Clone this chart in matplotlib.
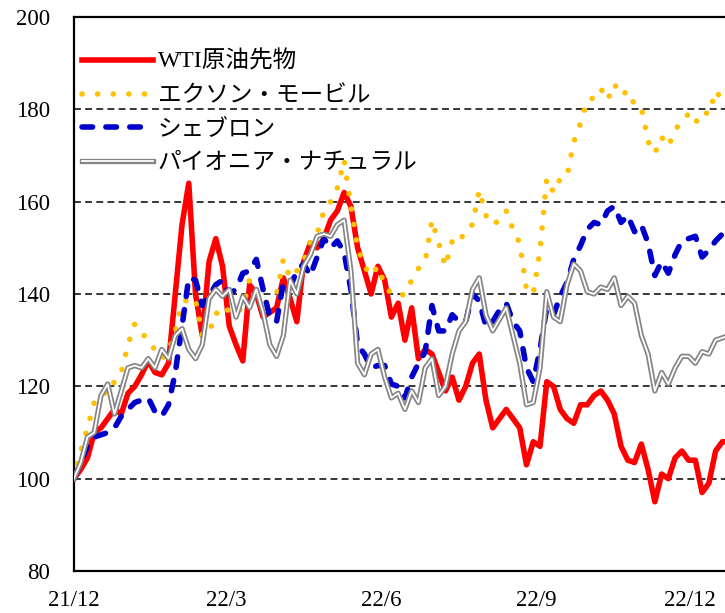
import matplotlib
matplotlib.use("Agg")
import matplotlib.pyplot as plt
import matplotlib.patheffects as pe
import pandas as pd

# 4日おきの指数 (21/12/1 = 100)
start = "2021-12-01"
wti = [100, 102, 104.5, 110, 111, 113, 115, 114, 118.5, 120, 122.5, 125.5, 123, 122.5, 125, 140,
       155, 164, 140, 131, 147, 152, 146, 133, 129, 125.5, 142, 140, 135, 136, 137, 143.5,
       139, 134, 147, 151, 150, 152, 156, 158, 162, 159, 150, 145, 140, 146, 143, 135,
       138, 130, 137, 126, 128, 127, 123, 119, 122, 117, 120, 125, 127, 117, 111, 113,
       115, 113, 111, 103, 108, 107, 121, 120, 115, 113, 112, 116, 116, 118, 119, 117,
       114, 107, 104, 103.5, 107.5, 102, 95, 101, 100, 104.5, 106, 104, 104, 97, 99, 106,
       108, 108]
exxon = [100, 106, 111, 116.5, 118.5, 118.5, 121, 123, 129, 133.5, 132, 129.5, 128, 126, 127.5, 132,
         138, 139, 139, 131, 131.5, 136, 135, 137, 136, 137, 143, 141, 138, 138.5, 140, 147.5,
         143.5, 145, 147, 151.5, 153, 158, 160, 163, 169, 159, 150, 146, 144, 146, 142, 140,
         139.5, 140, 143, 145.5, 147, 156, 151, 146, 151.5, 151, 154, 155, 162.5, 157, 155, 156,
         158, 154, 151, 141, 140, 149.5, 165, 162, 165, 165.5, 173, 177, 182, 182.5, 184.5, 182,
         185.5, 183, 184, 181, 180.5, 173, 170.5, 174, 172, 175.5, 177.5, 179, 177, 179.5, 179, 184,
         182, 184]
chevron = [100, 103.5, 107, 109, 109.5, 110, 111, 113.5, 115, 116.5, 117, 117.5, 114.5, 113.5, 116, 123,
           133, 143.5, 143, 137.5, 139.5, 142, 143, 140, 141, 144.5, 145, 147.5, 141, 135, 134, 142.5,
           141.5, 145, 146.5, 144, 148, 152, 150, 151.5, 149, 141, 129, 127, 124, 124.5, 124.5, 120.5,
           120, 117.5, 122, 125, 127.5, 137.5, 132, 132, 135.5, 134, 134, 140, 138.5, 133, 134, 136.5,
           138, 134, 132, 124, 121, 128, 137, 135.5, 139.5, 142.5, 147.5, 150.5, 154, 155.5, 155, 158,
           159, 155.5, 157, 153.5, 155, 151, 144, 147, 144.5, 148.5, 151.5, 152, 152.5, 148, 149.5, 151.5,
           153, 153]
pioneer = [100, 103.5, 109, 110, 118, 120.5, 114, 119, 124, 124.5, 124, 126, 124, 128, 126, 131,
           132.5, 128, 126, 129, 139, 141, 139.5, 141, 135, 139.5, 137, 141, 136, 129, 126.5, 131,
           143, 140, 146, 148.5, 152.5, 153, 152.5, 155, 156, 145, 125, 122.5, 127, 128, 122, 117.5,
           118.5, 115, 119, 116.5, 124, 126, 118, 120, 127, 132, 134, 141, 143.5, 135.5, 132, 134.5,
           137, 131, 125, 116, 116.5, 124, 140.5, 135, 134, 142, 146.5, 145, 140.5, 140, 141.5, 141,
           143.5, 137.5, 139.5, 138, 131, 127, 119, 123, 120.5, 124, 126.5, 126.5, 125, 127.5, 127, 130,
           130.5, 131]

labels = ["WTI原油先物", "エクソン・モービル", "シェブロン", "パイオニア・ナチュラル"]
tick_dates = ["2021-12-01", "2022-03-01", "2022-06-01", "2022-09-01", "2022-12-01"]
tick_labels = ["21/12", "22/3", "22/6", "22/9", "22/12"]
y_ticks = [80, 100, 120, 140, 160, 180, 200]

dates = pd.date_range(start, periods=len(wti), freq="4D")

plt.rcParams["font.family"] = ["Liberation Serif", "Noto Sans CJK JP"]

fig = plt.figure(figsize=(7.25, 6.13), dpi=100)
ax = fig.add_axes([0.102, 0.0685, 0.92, 0.9038])

ax.plot(dates, wti, color="#FF0000", lw=4.0, solid_joinstyle="round", label=labels[0], zorder=3)
ax.plot(dates, exxon, color="#FFC000", lw=4.0, linestyle=(0, (0.01, 2.8)),
        dash_capstyle="round", label=labels[1], zorder=4)
ax.plot(dates, chevron, color="#0000CC", lw=4.0, linestyle=(0, (1.9, 2.4)),
        dash_capstyle="round", label=labels[2], zorder=5)
ax.plot(dates, pioneer, color="white", lw=1.3, label=labels[3], zorder=6,
        path_effects=[pe.Stroke(linewidth=3.8, foreground="#858585"), pe.Normal()])

ax.set_ylim(80, 200)
ax.set_yticks(y_ticks)
ax.set_xlim(pd.Timestamp("2021-12-01"), pd.Timestamp("2022-12-31"))
ax.set_xticks(pd.to_datetime(tick_dates))
ax.set_xticklabels(tick_labels)

for y in y_ticks[1:-1]:
    ax.axhline(y, color="black", lw=1.1, linestyle=(0, (4.5, 2.8)), zorder=1)

for s in ["left", "bottom", "top"]:
    ax.spines[s].set_linewidth(1.6)
ax.spines["right"].set_visible(False)
ax.tick_params(axis="both", length=0, labelsize=16.5)
ax.tick_params(axis="y", pad=17)
ax.tick_params(axis="x", pad=14)

ax.legend(loc="upper left", bbox_to_anchor=(0.012, 0.939), frameon=False, fontsize=17,
          handlelength=3.0, handletextpad=0.2, labelspacing=0.52, borderpad=0,
          borderaxespad=0)

fig.savefig("out.png", dpi=100)
